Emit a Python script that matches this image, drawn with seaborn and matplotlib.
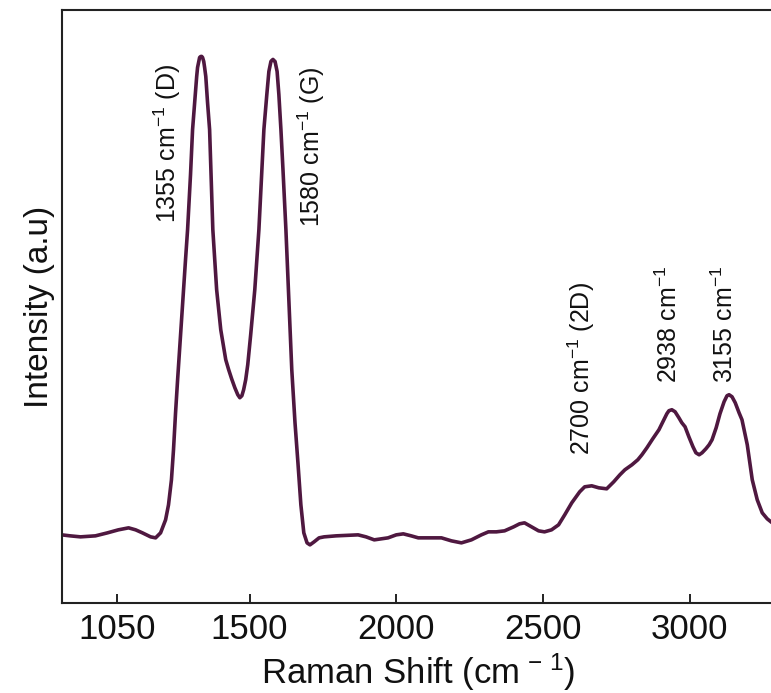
import matplotlib
matplotlib.use("Agg")
import matplotlib.pyplot as plt
import seaborn as sns

# Raman spectrum (wavenumber in cm^-1, intensity in a.u.)
shift = [860, 889, 924, 975, 1016, 1053, 1088, 1112, 1135, 1163,
         1180, 1197, 1214, 1224, 1234, 1241, 1248, 1255, 1265, 1275,
         1282, 1289, 1299, 1306, 1313, 1320, 1323, 1327, 1330, 1334,
         1337, 1340, 1344, 1347, 1351, 1354, 1357, 1364, 1375, 1388,
         1402, 1419, 1429, 1439, 1450, 1460, 1467, 1474, 1480, 1487,
         1494, 1504, 1518, 1525, 1532, 1542, 1549, 1559, 1566, 1573,
         1576, 1580, 1583, 1587, 1594, 1600, 1607, 1614, 1624, 1634,
         1644, 1655, 1665, 1675, 1685, 1696, 1706, 1720, 1737, 1754,
         1795, 1870, 1897, 1925, 1948, 1972, 2000, 2024, 2051, 2075,
         2119, 2154, 2188, 2222, 2256, 2290, 2314, 2341, 2369, 2400,
         2420, 2437, 2461, 2485, 2505, 2529, 2553, 2574, 2598, 2625,
         2642, 2666, 2690, 2717, 2741, 2762, 2779, 2803, 2823, 2837,
         2854, 2874, 2895, 2915, 2922, 2929, 2939, 2950, 2963, 2973,
         2984, 2997, 3011, 3021, 3032, 3042, 3055, 3066, 3076, 3090,
         3103, 3117, 3127, 3134, 3144, 3155, 3168, 3178, 3196, 3213,
         3230, 3247, 3264, 3281, 3290]
intensity = [68, 67, 66, 67, 70, 73, 75, 73, 70, 66,
             65, 70, 83, 98, 123, 153, 190, 223, 268, 313,
             343, 373, 428, 473, 500, 526, 535, 541, 545, 546,
             546, 545, 541, 535, 526, 513, 500, 473, 373, 313,
             273, 243, 233, 224, 215, 208, 205, 207, 213, 223,
             238, 268, 313, 343, 373, 433, 473, 508, 531, 541,
             542, 543, 542, 541, 531, 508, 473, 433, 373, 303,
             233, 180, 140, 98, 70, 60, 58, 61, 65, 66,
             67, 68, 66, 63, 64, 65, 68, 69, 67, 65,
             65, 65, 62, 60, 63, 68, 71, 71, 72, 76,
             79, 80, 76, 72, 71, 73, 78, 88, 100, 111,
             116, 117, 115, 114, 121, 128, 133, 138, 143, 148,
             155, 164, 173, 185, 189, 192, 193, 191, 185, 180,
             176, 166, 156, 150, 148, 150, 154, 158, 163, 175,
             189, 201, 207, 208, 206, 200, 190, 183, 158, 123,
             103, 90, 84, 80, 79]

# peak labels: text, x position, bottom of the rotated text
peak_labels = ["1355 cm$^{-1}$ (D)", "1580 cm$^{-1}$ (G)", "2700 cm$^{-1}$ (2D)",
               "2938 cm$^{-1}$", "3155 cm$^{-1}$"]
peak_x = [1221, 1709, 2632, 2929, 3120]
peak_y = [380, 376, 148, 220, 220]

xtick_vals = [1050, 1500, 2000, 2500, 3000]

sns.set_style("ticks")
plt.rcParams["font.family"] = ["Liberation Sans", "DejaVu Sans"]
plt.rcParams["mathtext.fontset"] = "custom"
plt.rcParams["mathtext.rm"] = "Liberation Sans"
plt.rcParams["mathtext.it"] = "Liberation Sans:italic"

fig = plt.figure(figsize=(7.71, 6.93), dpi=100)
ax = fig.add_axes([0.080, 0.130, 0.925, 0.855])

sns.lineplot(x=shift, y=intensity, estimator=None, sort=False,
             color="#4f1840", linewidth=2.6, ax=ax)
ax.lines[0].set_solid_joinstyle("round")

for label, px, py in zip(peak_labels, peak_x, peak_y):
    ax.text(px, py, label, rotation=90, ha="center", va="bottom",
            fontsize=18, color="#111111")

ax.set_xlim(860, 3290)
ax.set_ylim(0, 592)
ax.set_xticks(xtick_vals)
ax.set_xticklabels([str(v) for v in xtick_vals])
ax.set_yticks([])
ax.tick_params(axis="x", direction="in", length=6.5, width=1.3,
               labelsize=25, pad=7, colors="#111111")
ax.set_xlabel(r"Raman Shift (cm$^{\,-\,1}$)", fontsize=25, labelpad=4,
              color="#111111")
ax.set_ylabel("Intensity (a.u)", fontsize=24, labelpad=5, color="#111111")

for side in ["left", "bottom", "top"]:
    ax.spines[side].set_linewidth(1.5)
    ax.spines[side].set_color("#222222")
ax.spines["right"].set_visible(False)

fig.savefig("out.png", dpi=100)
